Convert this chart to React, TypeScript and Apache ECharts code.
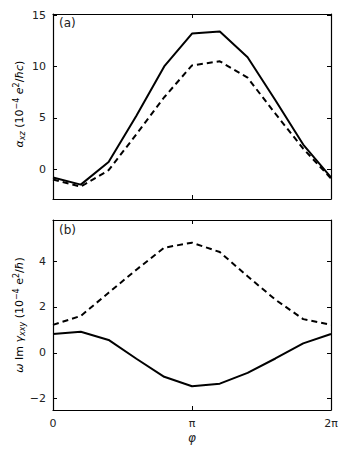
import React, { useEffect, useRef } from "react";
import * as echarts from "echarts";

// phi in units of pi
const phiOverPi = [0, 0.2, 0.4, 0.6, 0.8, 1.0, 1.2, 1.4, 1.6, 1.8, 2.0];
const alphaSolid = [-0.8, -1.5, 0.7, 5.2, 10.0, 13.2, 13.4, 10.9, 6.7, 2.4, -0.8];
const alphaDashed = [-1.0, -1.7, -0.1, 3.4, 7.0, 10.1, 10.5, 8.9, 5.4, 2.0, -0.9];
const gammaSolid = [0.82, 0.92, 0.56, -0.26, -1.05, -1.46, -1.35, -0.88, -0.25, 0.41, 0.82];
const gammaDashed = [1.22, 1.61, 2.62, 3.63, 4.59, 4.81, 4.4, 3.34, 2.32, 1.47, 1.22];
const topTicks = [0, 5, 10, 15];
const bottomTicks = [-2, 0, 2, 4];
const xTicks = [0, 1, 2];
const xTickLabels = ["0", "π", "2π"];

const FONT = "DejaVu Sans";

function zip(xs: number[], ys: number[]) {
  return xs.map((x, i) => [x, ys[i]]);
}

const tickFmt = (v: number) => String(v).replace("-", "−");

export default function App() {
  const ref = useRef<HTMLDivElement>(null);
  useEffect(() => {
    document.body.style.margin = "0";
    const chart = echarts.init(ref.current!, null, { renderer: "svg" });
    const axisLine = { show: true, lineStyle: { color: "#000", width: 1.2 } };
    const tick = (values: number[]) => ({
      show: true,
      inside: true,
      length: 4,
      customValues: values,
      lineStyle: { color: "#000", width: 1 },
    });
    const xAxisCommon = {
      type: "value",
      min: 0,
      max: 2,
      splitLine: { show: false },
      axisLine: { ...axisLine, onZero: false },
    };
    const yAxisCommon = {
      type: "value",
      splitLine: { show: false },
      axisLine: { ...axisLine, onZero: false },
    };
    const sub = { fontSize: 8, fontFamily: FONT, fontStyle: "italic", verticalAlign: "bottom", color: "#222" };
    const sup = { fontSize: 8, fontFamily: FONT, verticalAlign: "top", color: "#222" };
    const n = { fontSize: 11, fontFamily: FONT, color: "#222" };
    const it = { fontSize: 11, fontFamily: FONT, fontStyle: "italic", color: "#222" };
    const rich = { n, it, sub, sup };
    const option = {
      animation: false,
      backgroundColor: "#fff",
      grid: [
        { left: 53, top: 14, width: 278, height: 185 },
        { left: 53, top: 220, width: 278, height: 190 },
      ],
      xAxis: [
        { ...xAxisCommon, gridIndex: 0, position: "bottom", axisTick: tick(xTicks), axisLabel: { show: false } },
        { ...xAxisCommon, gridIndex: 0, position: "top", axisTick: tick(xTicks), axisLabel: { show: false } },
        {
          ...xAxisCommon,
          gridIndex: 1,
          position: "bottom",
          axisTick: tick(xTicks),
          axisLabel: {
            show: true,
            customValues: xTicks,
            margin: 8,
            fontSize: 11,
            fontFamily: FONT,
            color: "#222",
            formatter: (v: number) => xTickLabels[Math.round(v)],
          },
          name: "φ",
          nameLocation: "middle",
          nameGap: 22,
          nameTextStyle: { fontSize: 12, fontFamily: FONT, fontStyle: "italic", color: "#222" },
        },
        { ...xAxisCommon, gridIndex: 1, position: "top", axisTick: tick(xTicks), axisLabel: { show: false } },
      ],
      yAxis: [
        {
          ...yAxisCommon,
          gridIndex: 0,
          position: "left",
          min: -2.9,
          max: 15.1,
          axisTick: tick(topTicks),
          axisLabel: { show: true, customValues: topTicks, margin: 7, fontSize: 11, fontFamily: FONT, color: "#222", formatter: tickFmt },
        },
        { ...yAxisCommon, gridIndex: 0, position: "right", min: -2.9, max: 15.1, axisTick: tick(topTicks), axisLabel: { show: false } },
        {
          ...yAxisCommon,
          gridIndex: 1,
          position: "left",
          min: -2.5,
          max: 5.8,
          axisTick: tick(bottomTicks),
          axisLabel: { show: true, customValues: bottomTicks, margin: 7, fontSize: 11, fontFamily: FONT, color: "#222", formatter: tickFmt },
        },
        { ...yAxisCommon, gridIndex: 1, position: "right", min: -2.5, max: 5.8, axisTick: tick(bottomTicks), axisLabel: { show: false } },
      ],
      series: [
        { type: "line", xAxisIndex: 0, yAxisIndex: 0, data: zip(phiOverPi, alphaSolid), showSymbol: false, lineStyle: { color: "#000", width: 2 } },
        { type: "line", xAxisIndex: 0, yAxisIndex: 0, data: zip(phiOverPi, alphaDashed), showSymbol: false, lineStyle: { color: "#000", width: 2, type: [6, 4] } },
        { type: "line", xAxisIndex: 2, yAxisIndex: 2, data: zip(phiOverPi, gammaSolid), showSymbol: false, lineStyle: { color: "#000", width: 2 } },
        { type: "line", xAxisIndex: 2, yAxisIndex: 2, data: zip(phiOverPi, gammaDashed), showSymbol: false, lineStyle: { color: "#000", width: 2, type: [6, 4] } },
      ],
      graphic: [
        { type: "text", left: 59, top: 17, style: { text: "(a)", fontSize: 12, fontFamily: FONT, fill: "#222" } },
        { type: "text", left: 59, top: 224, style: { text: "(b)", fontSize: 12, fontFamily: FONT, fill: "#222" } },
        {
          type: "text",
          x: 19,
          y: 104,
          rotation: Math.PI / 2,
          style: {
            text: "{it|α}{sub|xz}{n| (10}{sup|−4}{it| e}{sup|2}{n|/}{it|ħc}{n|)}",
            rich,
            align: "center",
            verticalAlign: "middle",
            lineHeight: 14,
          },
        },
        {
          type: "text",
          x: 19,
          y: 315,
          rotation: Math.PI / 2,
          style: {
            text: "{it|ω}{n| Im }{it|γ}{sub|xxy}{n| (10}{sup|−4}{n| e}{sup|2}{n|/}{it|ħ}{n|)}",
            rich,
            align: "center",
            verticalAlign: "middle",
            lineHeight: 14,
          },
        },
      ],
    };
    chart.setOption(option as any);
    return () => chart.dispose();
  }, []);
  return <div ref={ref} style={{ position: "fixed", left: 0, top: 0, width: 349, height: 452 }} />;
}
